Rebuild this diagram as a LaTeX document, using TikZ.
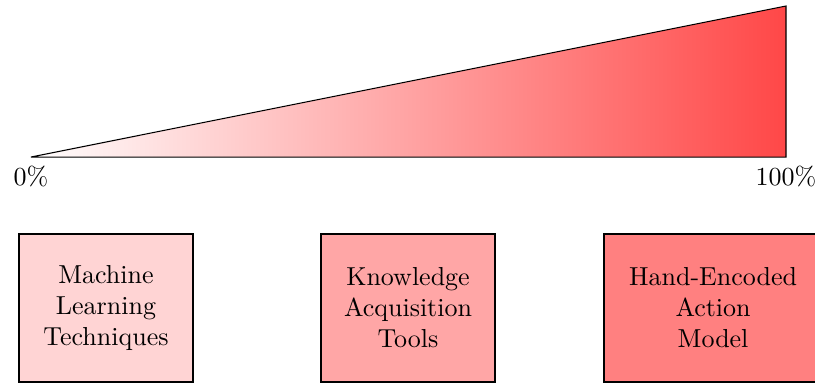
\documentclass[tikz,border=0pt]{standalone}
\usetikzlibrary{positioning}

\begin{document}
\begin{tikzpicture}[
    toolbox/.style={draw, thick, align=center, inner sep=0.3cm,
                    minimum height=2cm, text width=1.75cm}]
\useasboundingbox (0,0) rectangle (11.018,5.205);

\coordinate (low)  at (0.419,3.082);
\coordinate (high) at (10.626,3.082);
\coordinate (top)  at (10.626,5.124);

\shadedraw[left color=white, right color=red!72, draw=black]
      (low) -- (high) -- (top) -- cycle;

\node[anchor=north] (zero) at (low)  {0\%};
\node[anchor=north] (full) at (high) {100\%};

\node[toolbox, fill=red!17] (ml)   at (1.433,1.045) {Machine\\Learning\\Techniques};
\node[toolbox, fill=red!35] (kat)  at (5.516,1.045) {Knowledge\\Acquisition\\Tools};
\node[toolbox, fill=red!50, text width=2.35cm] (hand) at (9.64,1.045) {Hand-Encoded\\Action\\Model};
\end{tikzpicture}
\end{document}
